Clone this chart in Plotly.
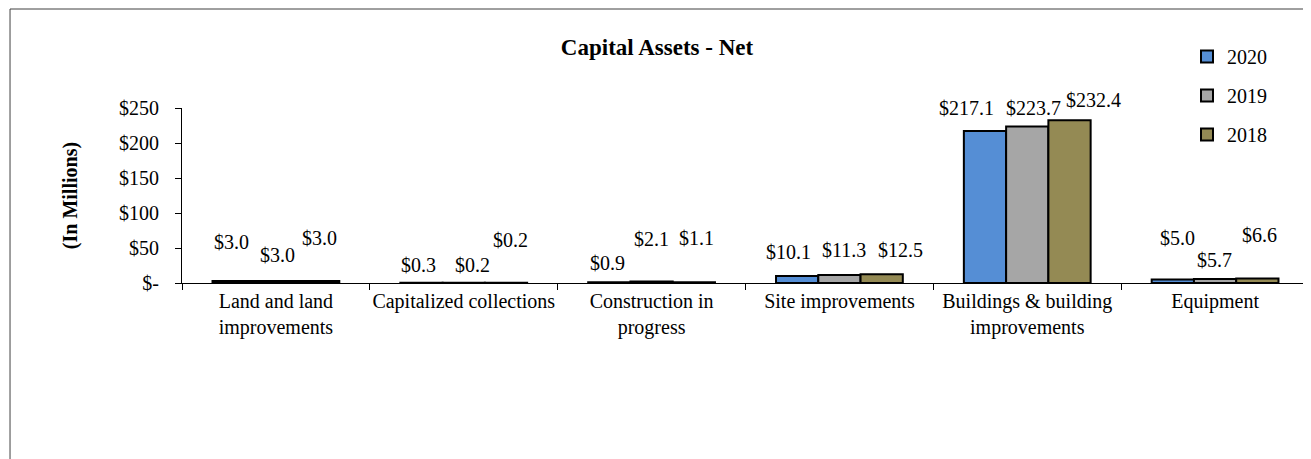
import plotly.graph_objects as go

categories = ["Land and land improvements", "Capitalized collections", "Construction in progress",
              "Site improvements", "Buildings & building improvements", "Equipment"]
tick_labels = ["Land and land<br>improvements", "Capitalized collections", "Construction in<br>progress",
               "Site improvements", "Buildings & building<br>improvements", "Equipment"]
years = ["2020", "2019", "2018"]
values_2020 = [3.0, 0.3, 0.9, 10.1, 217.1, 5.0]
values_2019 = [3.0, 0.2, 2.1, 11.3, 223.7, 5.7]
values_2018 = [3.0, 0.2, 1.1, 12.5, 232.4, 6.6]
y_ticks = [0, 50, 100, 150, 200, 250]
y_tick_labels = ["$-", "$50", "$100", "$150", "$200", "$250"]

series = [values_2020, values_2019, values_2018]
colors = ["#558ED5", "#A6A6A6", "#948A54"]

# label pixel offsets (style): (xshift, yshift) per series per category
label_offsets = [
    [(-2, 39), (-3, 18), (-2, 19), (-9, 24), (-19, 23), (4, 42)],
    [(2, 26), (9, 18), (0, 43), (5, 25), (6, 18), (-1, 19)],
    [(2, 43), (5, 43), (3, 44), (19, 24), (24, 20), (2, 43)],
]
bar_px = 42
FONT = "Liberation Serif"

fig = go.Figure()
for i, (yr, vals, col) in enumerate(zip(years, series, colors)):
    fig.add_trace(go.Bar(
        x=categories, y=vals, name=yr, legendgroup=yr,
        marker=dict(color=col, line=dict(color="#000000", width=2)),
    ))

annotations = []
for i, vals in enumerate(series):
    for j, (cat, v) in enumerate(zip(categories, vals)):
        dx, dy = label_offsets[i][j]
        annotations.append(dict(
            x=cat, y=v, xref="x", yref="y", text=f"${v:.1f}", showarrow=False,
            xshift=(i - 1) * bar_px + dx, yshift=dy, yanchor="middle", xanchor="center",
            font=dict(family=FONT, size=20, color="#000000"),
        ))

fig.update_layout(
    width=1311, height=459,
    margin=dict(l=174, r=10, t=100, b=184, autoexpand=False),
    paper_bgcolor="white", plot_bgcolor="white",
    barmode="group", bargap=0.325, bargroupgap=0,
    font=dict(family=FONT, size=20, color="#000000"),
    title=dict(text="<b>Capital Assets - Net</b>", x=649 / 1311, xanchor="center", xref="container",
               y=1 - 39 / 459, yanchor="middle", yref="container",
               font=dict(family=FONT, size=23, color="#000000")),
    legend=dict(x=1179 / 1311, xanchor="left", xref="container", y=1 - 29 / 459, yanchor="top",
                yref="container", traceorder="grouped",
                tracegroupgap=10, font=dict(family=FONT, size=20, color="#000000"),
                bgcolor="rgba(0,0,0,0)"),
    annotations=annotations,
    showlegend=True,
)
fig.update_xaxes(
    tickvals=categories, ticktext=tick_labels, tickson="boundaries", tickangle=0, automargin=False,
    ticks="outside", ticklen=6, tickcolor="#000000", showline=True, linecolor="#000000", linewidth=1,
    showgrid=False, tickfont=dict(family=FONT, size=20, color="#000000"),
)
fig.update_yaxes(
    range=[0, 250], tickvals=y_ticks, ticktext=y_tick_labels, ticks="outside", ticklen=6, automargin=False,
    tickcolor="#000000", showline=True, linecolor="#000000", linewidth=1, showgrid=False, zeroline=False,
    tickfont=dict(family=FONT, size=20, color="#000000"), ticklabelstandoff=12,
    title=dict(text="<b>(In Millions)</b>", standoff=36, font=dict(family=FONT, size=20, color="#000000")),
)
# chart border (left and top edges visible in the frame)
fig.add_shape(type="line", xref="paper", yref="paper", x0=-0.1526, x1=-0.1526, y0=-1.2, y1=1.5657,
              line=dict(color="#404040", width=1))
fig.add_shape(type="line", xref="paper", yref="paper", x0=-0.1526, x1=1.1, y0=1.5657, y1=1.5657,
              line=dict(color="#404040", width=1))

fig.write_html("out.html")
